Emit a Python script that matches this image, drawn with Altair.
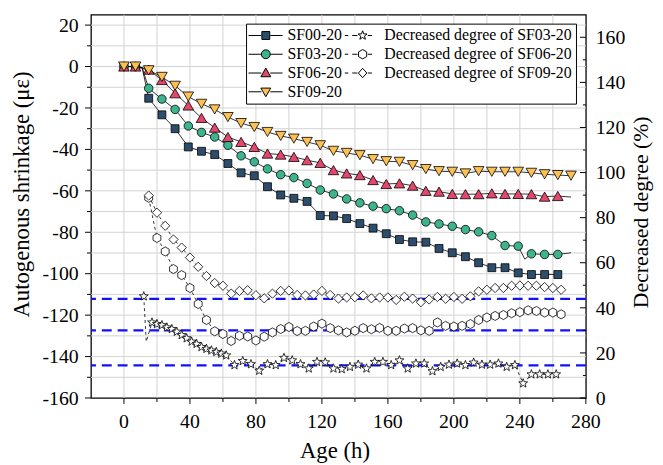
import altair as alt
import pandas as pd

# ---------------- data ----------------
t_main = [0, 7, 15, 23, 31, 39, 47, 55, 63, 71, 79, 87, 95, 103, 111, 119, 127, 135,
          143, 151, 159, 167, 175, 183, 191, 199, 207, 215, 223, 231, 239, 247, 255, 263, 271]

sf00 = [0, 0, -15.3, -23.3, -30, -38.8, -40.9, -42.5, -46.8, -51.3, -52.7, -58, -62, -63.6,
        -65.1, -71.9, -72.1, -73.4, -75.8, -78, -80.7, -83.5, -84.6, -84.8, -87.8, -89.9,
        -91.8, -94.7, -97.1, -97.1, -99.6, -100.4, -100.4, -100.4]
sf03 = [0, 0, -10.5, -15.7, -20.7, -28.7, -31.8, -34, -38, -43.1, -46, -49.4, -52.2, -53.6,
        -56.4, -59.6, -61.5, -63.9, -65.8, -67.4, -68.6, -69.6, -71.7, -75, -76, -77.1,
        -78.7, -79.8, -81.6, -86.4, -86.7, -90.4, -90.7, -90.7]
sf06 = [0, 0, -1.5, -6.5, -12.9, -18.8, -24.8, -29.5, -34, -36.4, -38.8, -42, -42.5, -43.6,
        -45.2, -46.5, -50, -51.6, -52.4, -54.8, -56.7, -56.4, -57.5, -60, -60.4, -61.5,
        -61.6, -61.6, -61.2, -61.5, -61.5, -61.6, -62.8, -62.5]
sf09 = [0, 0, -1.8, -5, -9.3, -14.5, -18, -20.7, -24.4, -27.3, -29.2, -31.6, -33.5, -34.8,
        -36.4, -38, -40.7, -41.7, -42.8, -44.7, -45.7, -46, -47.6, -49.5, -50.5, -50.8,
        -51.6, -50.5, -50.8, -50.8, -50.8, -51.3, -52, -52.4, -52.7]

# unmarked points of the measured curves (line only)
sf00_extra_t, sf00_extra_v = [11], [-0.5]
sf03_extra_t, sf03_extra_v = [11, 243, 271], [-0.5, -93, -89.9]
sf06_extra_t, sf06_extra_v = [11, 271], [-0.5, -63]
sf09_extra_t, sf09_extra_v = [], []

t_dec = list(range(15, 266, 5))
dec09 = [89.8, 82.2, 76.4, 70.3, 66.7, 62.3, 58.2, 54.1, 51, 49.8, 46.3, 47.5, 47.8, 45.6,
         44.2, 46.3, 47.5, 47.7, 45.7, 45.5, 45.9, 47.5, 45.7, 44.1, 44.6, 44.7, 45.5, 44.2,
         44.6, 44.6, 43.5, 44.9, 44.1, 42.5, 43.7, 44.8, 44, 44.8, 44, 45.1, 47.3, 48, 48.8,
         48.8, 49.8, 49.9, 49.8, 49.8, 49.2, 48.8, 48]
dec06 = [88.8, 71, 65, 57.2, 54.5, 48.8, 41.7, 34.6, 29.6, 28.4, 25.3, 27.6, 27.3, 25.5,
         27.2, 29.1, 30.6, 31.5, 29.7, 29.8, 31.7, 33, 31, 30, 29.1, 29.8, 31, 30.5, 31.1,
         29.8, 29.8, 30.8, 31, 30, 29.8, 33.5, 32, 31.7, 32, 32.8, 34.6, 35.7, 36.4, 36.8,
         37.6, 38.1, 38.9, 38.6, 37.9, 37.9, 37.1]
t_dec03 = ([12, 17, 20, 23, 26, 29, 32, 35, 38, 41, 44, 47, 50, 53, 56, 59, 62]
           + list(range(67, 238, 5)) + [242, 247, 252, 257, 262])
dec03 = [45.1, 33.5, 32.8, 32.3, 31.3, 30.6, 29.4, 27.9, 26.5, 25, 24, 22.6, 21.8, 21.1, 20.4,
         19.7, 18.9,
         14.6, 16.4, 15, 12.1, 15, 14.6, 17.8, 16.7, 15, 13.1, 16, 15.8, 13.1, 12.8, 13.8, 14.8,
         13.1, 16, 16, 14.6, 16.7, 13.1, 15.3, 15.3, 11.9, 13.8, 14.8, 15.3, 14.6, 15.7, 14.8,
         14.8, 15.3, 13.8, 14.6,
         6.5, 10.5, 10.5, 10.5, 10.5]
dec03_extra_t, dec03_extra_v = [13.5], [25]

ref_levels = [44, 30, 14.5]   # blue dashed reference lines (right axis)

main_names = ["SF00-20", "SF03-20", "SF06-20", "SF09-20"]
dec_names = ["Decreased degree of SF03-20", "Decreased degree of SF06-20",
             "Decreased degree of SF09-20"]

# axis ticks, tick labels and grid
x_major = [0, 40, 80, 120, 160, 200, 240, 280]
x_labels = ["0", "40", "80", "120", "160", "200", "240", "280"]
x_minor = [20, 60, 100, 140, 180, 220, 260]
x_grid = [0, 20, 40, 60, 80, 100, 120, 140, 160, 180, 200, 220, 240, 260]
yl_major = [-160, -140, -120, -100, -80, -60, -40, -20, 0, 20]
yl_labels = ["-160", "-140", "-120", "-100", "-80", "-60", "-40", "-20", "0", "20"]
yl_minor = [-150, -130, -110, -90, -70, -50, -30, -10, 10]
yl_grid = yl_major[1:] + yl_minor
yr_major = [0, 20, 40, 60, 80, 100, 120, 140, 160]
yr_labels = ["0", "20", "40", "60", "80", "100", "120", "140", "160"]
yr_minor = [10, 30, 50, 70, 90, 110, 130, 150]

x_title = "Age (h)"
yl_title = "Autogenous shrinkage (\u03bc\u03b5)"
yr_title = "Decreased degree (%)"

# ---------------- tables ----------------
def rows(name, ts, vs, marker):
    return [{"series": name, "t": t, "v": v, "marker": marker} for t, v in zip(ts, vs)]

main_pts = pd.DataFrame(rows("SF00-20", t_main, sf00, True) + rows("SF03-20", t_main, sf03, True)
                        + rows("SF06-20", t_main, sf06, True) + rows("SF09-20", t_main, sf09, True))
main_line = pd.concat([main_pts, pd.DataFrame(
    rows("SF00-20", sf00_extra_t, sf00_extra_v, False) + rows("SF03-20", sf03_extra_t, sf03_extra_v, False)
    + rows("SF06-20", sf06_extra_t, sf06_extra_v, False) + rows("SF09-20", sf09_extra_t, sf09_extra_v, False))])

dec_pts = pd.DataFrame(rows(dec_names[0], t_dec03, dec03, True) + rows(dec_names[1], t_dec, dec06, True)
                       + rows(dec_names[2], t_dec, dec09, True))
dec_line = pd.concat([dec_pts, pd.DataFrame(rows(dec_names[0], dec03_extra_t, dec03_extra_v, False))])
ref_df = pd.DataFrame({"v": ref_levels})

# ---------------- styling ----------------
FONT = "'Liberation Serif', 'Times New Roman', serif"
W, H = 501, 388
GRID = "#d2d2d2"
TICK_FS = 20
TITLE_FS = 23

STAR = ("M0,-1L0.247,-0.34L0.951,-0.309L0.399,0.13L0.588,0.809L0,0.42L-0.588,0.809"
        "L-0.399,0.13L-0.951,-0.309L-0.247,-0.34Z")
HEX = "M0,-1L0.866,-0.5L0.866,0.5L0,1L-0.866,0.5L-0.866,-0.5Z"

main_style = {
    "SF00-20": dict(shape="square", fill="#2d4d6d", size=64),
    "SF03-20": dict(shape="circle", fill="#3db48e", size=74),
    "SF06-20": dict(shape="triangle-up", fill="#e4476c", size=115),
    "SF09-20": dict(shape="triangle-down", fill="#fcc152", size=115),
}
dec_style = {
    dec_names[0]: dict(shape=STAR, fill="white", size=90),
    dec_names[1]: dict(shape=HEX, fill="white", size=84),
    dec_names[2]: dict(shape="diamond", fill="white", size=88),
}

x_scale = alt.Scale(domain=[-20, 280], nice=False, zero=False)
yl_scale = alt.Scale(domain=[-160, 25], nice=False, zero=False)
yr_scale = alt.Scale(domain=[0, 170], nice=False, zero=False)

X = alt.X("t:Q", scale=x_scale, axis=None)
YL = alt.Y("v:Q", scale=yl_scale, axis=None)
YR = alt.Y("v:Q", scale=yr_scale, axis=None)

def rule(df, **enc):
    return alt.Chart(df).mark_rule(color="black", strokeWidth=1).encode(**enc)

# ---------------- left group (shrinkage) ----------------
vgrid = alt.Chart(pd.DataFrame({"t": x_grid})).mark_rule(color=GRID, strokeWidth=1).encode(x=X)
hgrid = alt.Chart(pd.DataFrame({"v": yl_grid})).mark_rule(color=GRID, strokeWidth=1).encode(y=YL)

x_ticks = rule(pd.DataFrame({"t": x_major}), x=X, y=alt.value(H), y2=alt.value(H + 6))
x_mticks = rule(pd.DataFrame({"t": x_minor}), x=X, y=alt.value(H), y2=alt.value(H + 4))
yl_ticks = rule(pd.DataFrame({"v": yl_major}), y=YL, x=alt.value(-6), x2=alt.value(0))
yl_mticks = rule(pd.DataFrame({"v": yl_minor}), y=YL, x=alt.value(-4), x2=alt.value(0))

x_lab = alt.Chart(pd.DataFrame({"t": x_major, "lab": x_labels})).mark_text(
    font=FONT, fontSize=TICK_FS, color="black", align="center", baseline="alphabetic").encode(
    x=X, y=alt.value(H + 30), text="lab:N")
yl_lab = alt.Chart(pd.DataFrame({"v": yl_major, "lab": yl_labels})).mark_text(
    font=FONT, fontSize=TICK_FS, color="black", align="right", baseline="alphabetic", dy=6.8).encode(
    y=YL, x=alt.value(-12.5), text="lab:N")

x_tt = alt.Chart(pd.DataFrame({"lab": [x_title]})).mark_text(
    font=FONT, fontSize=TITLE_FS, color="black", align="center", baseline="alphabetic").encode(
    x=alt.value(247), y=alt.value(449), text="lab:N")
yl_tt = alt.Chart(pd.DataFrame({"lab": [yl_title]})).mark_text(
    font=FONT, fontSize=TITLE_FS, color="black", align="center", baseline="middle", angle=270).encode(
    x=alt.value(-70), y=alt.value(182), text="lab:N")

main_lines = alt.Chart(main_line).mark_line(color="black", strokeWidth=0.8).encode(
    x=X, y=YL, detail="series:N", order="t:Q")

main_layers = [vgrid, hgrid, x_ticks, x_mticks, yl_ticks, yl_mticks, x_lab, yl_lab, x_tt, yl_tt,
               main_lines]
for name in main_names:
    st = main_style[name]
    main_layers.append(
        alt.Chart(main_pts).transform_filter(alt.datum.series == name).mark_point(
            shape=st["shape"], filled=True, fill=st["fill"], stroke="black",
            strokeWidth=0.8, size=st["size"], opacity=1).encode(x=X, y=YL))

# legend (column-major, 2 columns): symbol = line + marker drawn as one path
leg_order = main_names + dec_names
SOLID = "M-3.5,0H-0.9M0.9,0H3.4"
DASH = "M-3.6,0H-2.9M-2.1,0H-1.05M1.05,0H1.9"
leg_paths = [
    SOLID + "M-0.8,-0.8H0.8V0.8H-0.8Z",
    SOLID + "M-0.9,0A0.9,0.9,0,1,0,0.9,0A0.9,0.9,0,1,0,-0.9,0Z",
    SOLID + "M0,-1L1,0.75L-1,0.75Z",
    SOLID + "M0,1L1,-0.75L-1,-0.75Z",
    DASH + "M0,-0.95L0.235,-0.323L0.903,-0.294L0.379,0.124L0.559,0.769L0,0.399L-0.559,0.769L-0.379,0.124L-0.903,-0.294L-0.235,-0.323Z",
    DASH + "M0,-0.95L0.823,-0.475L0.823,0.475L0,0.95L-0.823,0.475L-0.823,-0.475Z",
    DASH + "M0,-0.95L0.85,0L0,0.95L-0.85,0Z",
]
leg_fills = ["#2d4d6d", "#3db48e", "#e4476c", "#fcc152", "white", "white", "white"]
leg_strokes = ["black"] * 7

legend = alt.Legend(
    title=None, orient="none", legendX=157, legendY=9, columns=2, gridAlign="each",
    symbolSize=100, symbolOffset=8, labelOffset=14,
    symbolStrokeWidth=1, symbolOpacity=1,
    labelFont=FONT, labelFontSize=16, labelColor="black", labelLimit=0,
    rowPadding=3, columnPadding=0, padding=4,
    strokeColor="black", fillColor="white", cornerRadius=0)

leg_df = pd.DataFrame({"name": leg_order, "t": [0] * 7, "v": [0] * 7})
legend_layer = alt.Chart(leg_df).transform_filter("false").mark_point(
    filled=True, strokeWidth=1, opacity=1).encode(
    x=X, y=YL,
    shape=alt.Shape("name:N", scale=alt.Scale(domain=leg_order, range=leg_paths), legend=legend),
    fill=alt.Fill("name:N", scale=alt.Scale(domain=leg_order, range=leg_fills), legend=legend),
    stroke=alt.Stroke("name:N", scale=alt.Scale(domain=leg_order, range=leg_strokes), legend=legend))
main_layers.append(legend_layer)

left = alt.layer(*main_layers)

# ---------------- right group (decreased degree) ----------------
ref_lines = alt.Chart(ref_df).mark_rule(color="#1010ff", strokeWidth=2.2, strokeDash=[10, 6]).encode(y=YR)
yr_ticks = rule(pd.DataFrame({"v": yr_major}), y=YR, x=alt.value(W - 6), x2=alt.value(W))
yr_mticks = rule(pd.DataFrame({"v": yr_minor}), y=YR, x=alt.value(W - 3), x2=alt.value(W))
yr_lab = alt.Chart(pd.DataFrame({"v": yr_major, "lab": yr_labels})).mark_text(
    font=FONT, fontSize=TICK_FS, color="black", align="left", baseline="alphabetic", dy=6.8).encode(
    y=YR, x=alt.value(W + 10), text="lab:N")
yr_tt = alt.Chart(pd.DataFrame({"lab": [yr_title]})).mark_text(
    font=FONT, fontSize=22, color="black", align="center", baseline="middle", angle=270).encode(
    x=alt.value(W + 56), y=alt.value(200), text="lab:N")

dec_lines = alt.Chart(dec_line).mark_line(color="black", strokeWidth=0.8, strokeDash=[3, 3]).encode(
    x=X, y=YR, detail="series:N", order="t:Q")

dec_layers = [ref_lines, yr_ticks, yr_mticks, yr_lab, yr_tt, dec_lines]
for name in dec_names:
    st = dec_style[name]
    dec_layers.append(
        alt.Chart(dec_pts).transform_filter(alt.datum.series == name).mark_point(
            shape=st["shape"], filled=True, fill=st["fill"], stroke="black",
            strokeWidth=0.8, size=st["size"], opacity=1).encode(x=X, y=YR))

right = alt.layer(*dec_layers)

chart = alt.layer(left, right).resolve_scale(y="independent").properties(
    width=W, height=H,
    padding={"left": 84, "top": 4, "right": 70, "bottom": 65},
    autosize=alt.AutoSizeParams(type="none"),
    background="white",
).configure_view(stroke="black", strokeWidth=1.3)

chart.save("out.html", embed_options={"renderer": "svg", "actions": False})
